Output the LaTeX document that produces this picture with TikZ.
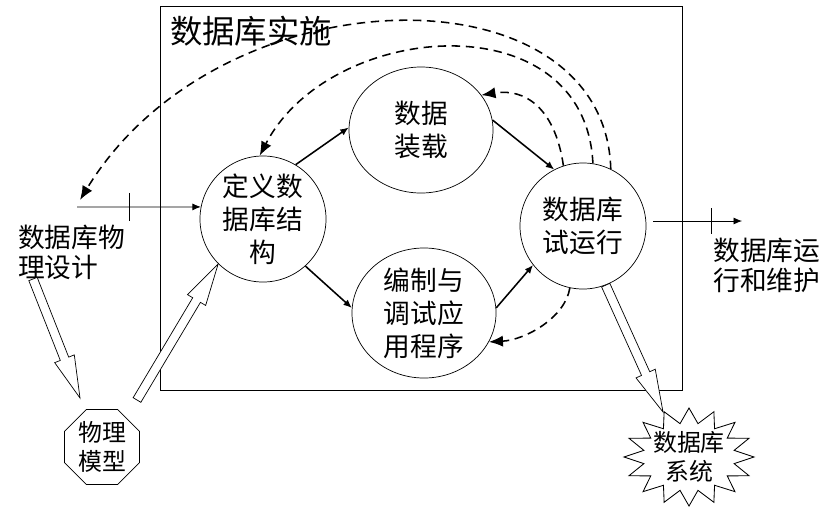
\documentclass[tikz,border=0pt]{standalone}
\usepackage{fontspec}
\setmainfont{Noto Sans CJK SC}
\usetikzlibrary{calc,shapes.geometric,arrows.meta}
\newcommand{\stagefont}{\fontsize{19}{23.5}\selectfont}
\newcommand{\notefont}{\fontsize{19}{21.3}\selectfont}
\newcommand{\smallfont}{\fontsize{17}{20.6}\selectfont}
\newcommand{\hollowarrow}[2]{%
\coordinate (ha) at ($(#2)!30pt!(#1)$);
\draw [hollow] ($(#1)!3.2pt!90:(#2)$) -- ($(ha)!3.2pt!90:(#2)$) -- ($(ha)!7.5pt!90:(#2)$)
  -- (#2) -- ($(ha)!7.5pt!-90:(#2)$) -- ($(ha)!3.2pt!-90:(#2)$) -- ($(#1)!3.2pt!-90:(#2)$) -- cycle;
}

\begin{document}
\begin{tikzpicture}[x=0.025cm,y=-0.025cm,
  stage/.style={circle,draw,line width=0.5pt,inner sep=0pt,minimum size=3.15cm,font=\stagefont,align=center},
  flow/.style={line width=1.1pt,-{Latex[length=6pt,width=5pt]}},
  feedback/.style={line width=1.1pt,dash pattern=on 6pt off 4pt,-{Latex[length=10pt,width=8pt]}},
  hollow/.style={line width=0.5pt,fill=white},
  note/.style={font=\notefont,align=left,inner sep=0pt}]
\useasboundingbox (0,0) rectangle (839,507);

% implementation box
\draw [line width=0.7pt] (160,6) rectangle (682,390);
\node [font=\fontsize{23}{26}\selectfont,inner sep=0pt] (title) at (251,31) {数据库实施};

\node [stage] (def) at (263,219) {定义数\\据库结\\构};
\node [stage,ellipse,minimum width=3.6cm,minimum height=3.15cm] (load) at (421,130) {数据\\装载};
\node [stage] (trial) at (583,226) {数据库\\试运行};
\node [stage,ellipse,minimum width=3.6cm,minimum height=3.25cm] (prog) at (424,313) {编制与\\调试应\\用程序};

\draw [flow] (def.59) -- (load.178);
\draw [flow] (load.8) -- (trial.117);
\draw [flow] (def.-48) -- (prog.176);
\draw [flow] (prog.4) -- (trial.218);

% feedback
\coordinate (fbEnd) at (80,200);
\draw [feedback] (trial.64) .. controls (605,-35) and (220,-30) .. (fbEnd);
\draw [feedback] (trial.81) .. controls (585,0) and (330,20) .. (def.93);
\draw [feedback] (trial.108) .. controls (555,108) and (525,88) .. (load.30);
\draw [feedback] (trial.258) .. controls (565,318) and (525,340) .. (prog.-24);

% in and out
\coordinate (inStart) at (77,207);
\draw [flow,line width=0.6pt] (inStart) -- (def.169);
\draw [line width=0.6pt] ($(inStart)!0.42!(def.169)$) +(0,-14) -- +(0,14);
\node [note,anchor=north west] (inLabel) at (18,225) {数据库物\\理设计};

\coordinate (outStart) at (653,221);
\coordinate (outEnd) at (742,221);
\draw [flow,line width=0.6pt] (outStart) -- (outEnd);
\draw [line width=0.6pt] ($(outStart)!0.66!(outEnd)$) +(0,-13) -- +(0,13);
\node [note,anchor=north west] (outLabel) at (713,238) {数据库运\\行和维护};

% model and system
\node [regular polygon,regular polygon sides=8,draw,line width=0.5pt,inner sep=0pt,minimum size=2.03cm,
  font=\smallfont,align=center] (phys) at (102,447) {物理\\模型};
\node [font=\smallfont,align=center,inner sep=0pt] (sys) at (689,457) {数据库\\系统};
\draw [line width=0.6pt] ($(sys)+(90:65 and 49)$)
  \foreach \k [evaluate=\k as \rx using {isodd(\k) ? 46 : 65},
               evaluate=\k as \ry using {isodd(\k) ? 34 : 49}] in {1,...,31} {
  -- ($(sys)+({90+\k*11.25}:{\rx} and {\ry})$) } -- cycle;

\coordinate (pdStart) at (33,279);
\coordinate (pdEnd) at (80,398);
\coordinate (pmStart) at (137,400);
\coordinate (sysTip) at (663,412);
\hollowarrow{pdStart}{pdEnd}
\hollowarrow{pmStart}{def.225}
\hollowarrow{trial.-69}{sysTip}

\end{tikzpicture}
\end{document}
